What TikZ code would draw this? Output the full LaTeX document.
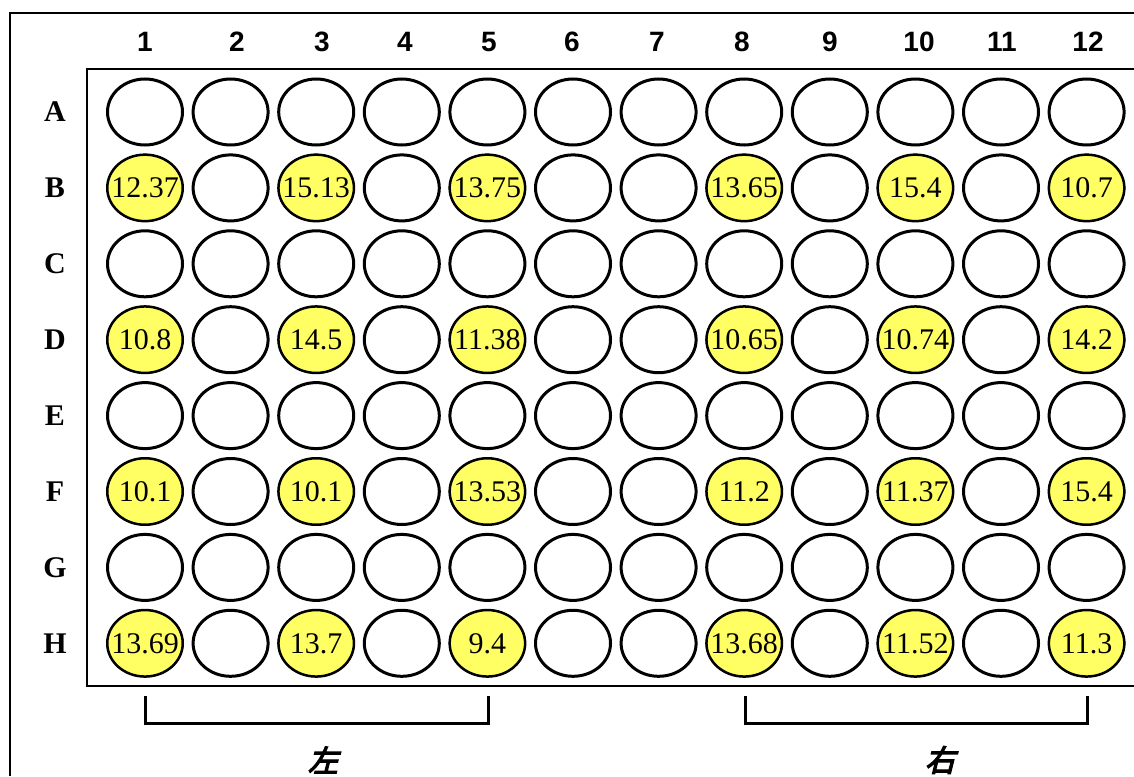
\documentclass[tikz,border=0pt]{standalone}
\usepackage{fontspec}
\setmainfont{Liberation Serif}
\newfontfamily\hdrfont{Liberation Sans}
\newfontfamily\cjk[FakeSlant=0.25,FakeBold=4]{Noto Sans CJK SC}
\usetikzlibrary{positioning, shapes.geometric}
\definecolor{wellyellow}{RGB}{255,255,100}
\tikzset{
    well/.style={ellipse, draw, line width=3pt, minimum width=75pt, minimum height=66pt, inner sep=0pt},
    fullwell/.style={well, fill=wellyellow, line width=2pt},
    wellval/.style={font=\fontsize{30}{30}\selectfont, inner sep=0pt},
    colhdr/.style={font=\hdrfont\bfseries\fontsize{28}{28}\selectfont},
    rowhdr/.style={font=\bfseries\fontsize{30}{30}\selectfont},
    sidelbl/.style={font=\cjk\fontsize{30}{30}\selectfont},
}

\begin{document}
\begin{tikzpicture}[x=1pt, y=-1pt]
    \useasboundingbox (0,0) rectangle (1134,776);

    \coordinate (OutTR) at (1134,13);
    \coordinate (OutTL) at (10,13);
    \coordinate (OutBL) at (10,776);
    \coordinate (PlTR) at (1134,69);
    \coordinate (PlTL) at (87,69);
    \coordinate (PlBL) at (87,686);
    \coordinate (PlBR) at (1134,686);
    \draw[line width=2pt] (OutTR) -- (OutTL) -- (OutBL);
    \draw[line width=2pt] (PlTR) -- (PlTL) -- (PlBL) -- (PlBR);

    \foreach \c/\x in {1/145, 2/237, 3/322, 4/405, 5/489, 6/572, 7/657, 8/742, 9/830, 10/919, 11/1002, 12/1088}
        \node[colhdr] (col\c) at (\x,42) {\c};

    \foreach \r [count=\i from 0] in {A,B,C,D,E,F,G,H} {
        \node[rowhdr] (row\r) at (55,112+75.9*\i) {\r};
        \foreach \c in {1,...,12}
            \node[well] (w\r\c) at (145+85.6*\c-85.6, 112+75.9*\i) {};
    }

    \foreach \r/\c/\v in {B/1/12.37, B/3/15.13, B/5/13.75, B/8/13.65, B/10/15.4, B/12/10.7,
                          D/1/10.8, D/3/14.5, D/5/11.38, D/8/10.65, D/10/10.74, D/12/14.2,
                          F/1/10.1, F/3/10.1, F/5/13.53, F/8/11.2, F/10/11.37, F/12/15.4,
                          H/1/13.69, H/3/13.7, H/5/9.4, H/8/13.68, H/10/11.52, H/12/11.3}
        \node[fullwell, label={[wellval]center:\v}] at (w\r\c) {};

    %brackets
    \coordinate (LA) at (145,696);
    \coordinate (LB) at (145,723);
    \coordinate (LC) at (488,723);
    \coordinate (LD) at (488,696);
    \coordinate (RA) at (745,696);
    \coordinate (RB) at (745,723);
    \coordinate (RC) at (1087,723);
    \coordinate (RD) at (1087,696);
    \draw[line width=3pt] (LA) -- (LB) -- (LC) -- (LD);
    \draw[line width=3pt] (RA) -- (RB) -- (RC) -- (RD);

    \node[sidelbl] (left) at (323,760) {左};
    \node[sidelbl] (right) at (940,760) {右};
\end{tikzpicture}
\end{document}
